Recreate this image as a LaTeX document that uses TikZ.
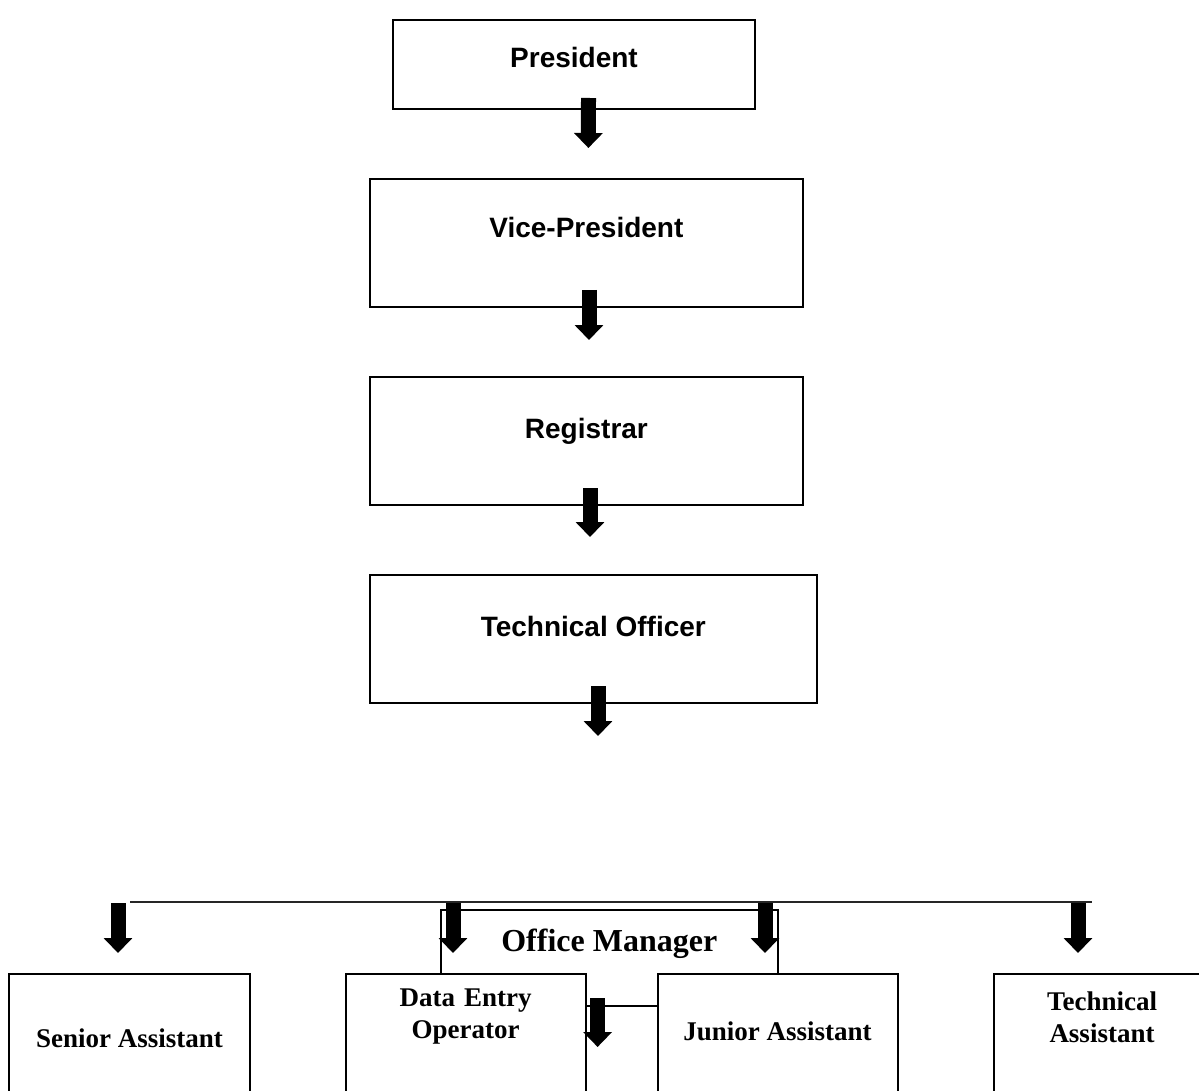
\documentclass[tikz,border=0pt]{standalone}
\usepackage{fontspec}
\setmainfont{Liberation Serif}
\newfontfamily\arialfont{Liberation Sans}
\usetikzlibrary{arrows.meta}

\begin{document}
\begin{tikzpicture}[x=1pt, y=-1pt,
	box/.style = {draw, line width=2pt, fill=white, anchor=north, inner xsep=0pt, inner ysep=0pt, outer sep=0pt},
	upper/.style = {box, font=\arialfont\bfseries\fontsize{28}{34}\selectfont},
	lower/.style = {box, font=\bfseries\fontsize{27}{32}\selectfont},
	downarrow/.style = {line width=15pt, -{Triangle[width=28pt, length=15pt]}},
	bus/.style = {line width=2pt, black!85}]
	\useasboundingbox (0,0) rectangle (1199,1091);
	\clip (0,0) rectangle (1199,1091);
	% upper chain
	\node[upper, minimum width=362pt, text height=48pt, text depth=41pt] (pres) at (574,20) {President};
	\node[upper, minimum width=432.7pt, text height=59pt, text depth=69pt] (vp) at (586.4,179) {Vice-President};
	\node[upper, minimum width=432.7pt, text height=61pt, text depth=67pt] (reg) at (586.4,377) {Registrar};
	\node[upper, minimum width=446.7pt, text height=61pt, text depth=66.7pt] (tech) at (593.3,575) {Technical Officer};
	\draw[downarrow] ([xshift=14.5pt,yshift=11pt]pres.south) -- ([xshift=2pt,yshift=31pt]vp.north);
	\draw[downarrow] ([xshift=2.6pt,yshift=17pt]vp.south) -- ([xshift=2.6pt,yshift=37pt]reg.north);
	\draw[downarrow] ([xshift=3.6pt,yshift=17pt]reg.south) -- ([xshift=-3.3pt,yshift=38pt]tech.north);
	\draw[downarrow] ([xshift=4.7pt,yshift=16.7pt]tech.south) -- ++(0,50);
	% office staff
	\coordinate (busL) at (130,902);
	\coordinate (busR) at (1092,902);
	\draw[bus] (busL) -- (busR);
	\node[lower, font=\bfseries\fontsize{32}{38}\selectfont, minimum width=336.5pt, text height=41pt, text depth=169pt] (om) at (609.25,910) {Office Manager};
	\node[lower, minimum width=241pt, text height=73pt, text depth=73pt] (senior) at (129.5,974) {Senior Assistant};
	\node[lower, minimum width=240pt, text width=240pt, align=center, text height=32.7pt, text depth=113.3pt] (deo) at (465.6,974) {Data Entry\\Operator};
	\node[lower, minimum width=240pt, text height=66pt, text depth=80pt] (junior) at (777.5,974) {Junior Assistant};
	\node[lower, minimum width=216pt, text width=216pt, align=center, text height=36pt, text depth=110pt] (techasst) at (1102,974) {Technical\\Assistant};
	\foreach \x [count=\i] in {118,453,765,1078}
		\coordinate (b\i) at (\x,903);
	\foreach \i in {1,...,4}
		\draw[downarrow] (b\i) -- ++(0,50);
	\draw[line width=2pt] ([yshift=41.3pt]deo.east) -- ([yshift=41.3pt]junior.west);
	\draw[downarrow] ([xshift=12pt,yshift=49pt]deo.east) -- ++(0,49);
\end{tikzpicture}
\end{document}
